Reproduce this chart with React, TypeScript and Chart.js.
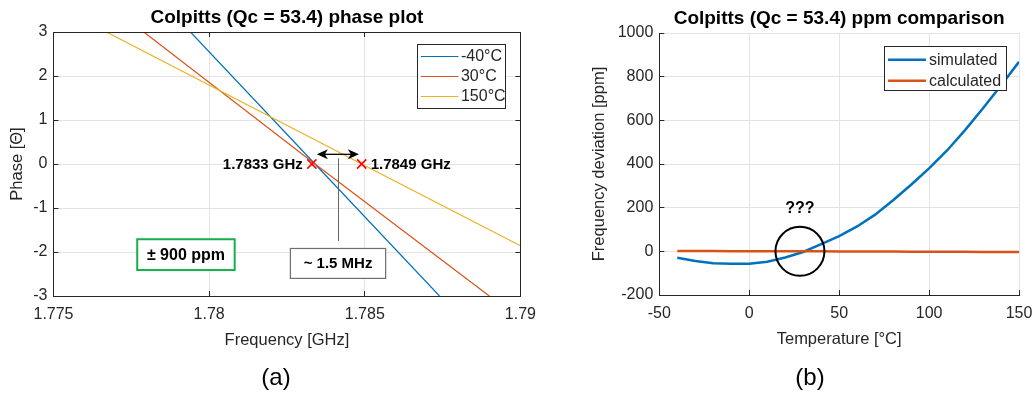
import React, { useEffect, useRef } from "react";
import { Chart, registerables } from "chart.js";
Chart.register(...registerables);

const FONT = "'Liberation Sans', Arial, Helvetica, sans-serif";
const AXIS = "#262626";
const GRID = "#e3e3e3";
const BLUE = "#0072BD";
const ORANGE = "#D95319";
const YELLOW = "#EDB120";

// ---------- (a) phase plot data ----------
const seriesLabelsA = ["-40°C", "30°C", "150°C"];
const freqM40 = [1.7794, 1.7834, 1.7874];
const phaseM40 = [3, 0, -3];
const freq30 = [1.7779, 1.7834, 1.789];
const phase30 = [3, 0, -3];
const freq150 = [1.7767, 1.7849, 1.79];
const phase150 = [3, 0, -1.86];
const markerFreqs = [1.7833, 1.7849];
const markerPhases = [0, 0];
const markerLabels = ["1.7833 GHz", "1.7849 GHz"];
const freqTicks = [1.775, 1.78, 1.785, 1.79];
const phaseTicks = [-3, -2, -1, 0, 1, 2, 3];

// ---------- (b) ppm comparison data ----------
const seriesLabelsB = ["simulated", "calculated"];
const temps = [-40, -30, -20, -10, 0, 10, 20, 30, 40, 50, 60, 70, 80, 90, 100, 110, 120, 130, 140, 150];
const simulated = [-29, -44, -55, -57, -57, -48, -28, -3, 33, 70, 114, 168, 234, 305, 380, 462, 555, 655, 760, 868];
const calculated = [1, 1, 1, 0, 0, 0, 0, 0, 0, -1, -1, -1, -1, -2, -2, -2, -2, -3, -3, -3];
const tempTicks = [-50, 0, 50, 100, 150];
const ppmTicks = [-200, 0, 200, 400, 600, 800, 1000];

const align = (p: number) => Math.round(p - 0.5) + 0.5;

function text(ctx: CanvasRenderingContext2D, s: string, x: number, y: number, font: string, color: string, al: CanvasTextAlign = "center") {
  ctx.font = font;
  ctx.fillStyle = color;
  ctx.textAlign = al;
  ctx.textBaseline = "middle";
  ctx.fillText(s, x, y);
}

function drawFrameTicks(chart: any, box: boolean) {
  const { ctx, chartArea: a, scales } = chart;
  ctx.save();
  ctx.strokeStyle = AXIS;
  ctx.lineWidth = 1;
  ctx.beginPath();
  const L = 5;
  scales.x.ticks.forEach((t: any) => {
    const px = align(scales.x.getPixelForValue(t.value));
    ctx.moveTo(px, a.bottom);
    ctx.lineTo(px, a.bottom - L);
    if (box) {
      ctx.moveTo(px, a.top);
      ctx.lineTo(px, a.top + L);
    }
  });
  scales.y.ticks.forEach((t: any) => {
    const py = align(scales.y.getPixelForValue(t.value));
    ctx.moveTo(a.left, py);
    ctx.lineTo(a.left + L, py);
    if (box) {
      ctx.moveTo(a.right, py);
      ctx.lineTo(a.right - L, py);
    }
  });
  if (box) {
    const t = align(a.top);
    const r = align(a.right);
    ctx.moveTo(a.left, t);
    ctx.lineTo(a.right + 0.5, t);
    ctx.moveTo(r, a.top);
    ctx.lineTo(r, a.bottom);
  }
  ctx.stroke();
  ctx.restore();
}

function drawLegend(chart: any, labels: string[], colors: string[], lw: number, bx: number, by: number, bw: number, bh: number, row0: number, rowStep: number, lineX0: number, lineX1: number, textX: number) {
  const ctx = chart.ctx;
  ctx.save();
  ctx.fillStyle = "#ffffff";
  ctx.fillRect(bx, by, bw, bh);
  ctx.strokeStyle = "#262626";
  ctx.lineWidth = 1;
  ctx.strokeRect(align(bx), align(by), Math.round(bw), Math.round(bh));
  labels.forEach((lab, i) => {
    const y = by + row0 + i * rowStep;
    ctx.strokeStyle = colors[i];
    ctx.lineWidth = lw;
    ctx.beginPath();
    ctx.moveTo(bx + lineX0, y);
    ctx.lineTo(bx + lineX1, y);
    ctx.stroke();
    text(ctx, lab, bx + textX, y + 0.5, `16px ${FONT}`, AXIS, "left");
  });
  ctx.restore();
}

function arrowHead(ctx: CanvasRenderingContext2D, x: number, y: number, dir: number) {
  ctx.beginPath();
  ctx.moveTo(x, y);
  ctx.lineTo(x - dir * 11, y - 5);
  ctx.lineTo(x - dir * 8, y);
  ctx.lineTo(x - dir * 11, y + 5);
  ctx.closePath();
  ctx.fill();
}

const decorA = {
  id: "decorA",
  afterDraw(chart: any) {
    const { ctx, chartArea: a, scales } = chart;
    const xs = scales.x, ys = scales.y;
    drawFrameTicks(chart, true);
    ctx.save();
    // title
    text(ctx, "Colpitts (Qc = 53.4) phase plot", (a.left + a.right) / 2, a.top - 14.5, `bold 19px ${FONT}`, "#000");
    // marker labels
    text(ctx, markerLabels[0], xs.getPixelForValue(markerFreqs[0]) - 9, ys.getPixelForValue(markerPhases[0]) + 0.5, `bold 15px ${FONT}`, "#000", "right");
    text(ctx, markerLabels[1], xs.getPixelForValue(markerFreqs[1]) + 9, ys.getPixelForValue(markerPhases[1]) + 0.5, `bold 15px ${FONT}`, "#000", "left");
    // double arrow
    const ay = ys.getPixelForValue(0.22);
    const ax0 = xs.getPixelForValue(1.78346);
    const ax1 = xs.getPixelForValue(1.78481);
    ctx.strokeStyle = "#000";
    ctx.fillStyle = "#000";
    ctx.lineWidth = 1.3;
    ctx.beginPath();
    ctx.moveTo(ax0 + 6, ay);
    ctx.lineTo(ax1 - 6, ay);
    ctx.stroke();
    arrowHead(ctx, ax0, ay, -1);
    arrowHead(ctx, ax1, ay, 1);
    // vertical pointer line
    const vx = align(xs.getPixelForValue(1.78414));
    ctx.strokeStyle = "#666";
    ctx.lineWidth = 1;
    ctx.beginPath();
    ctx.moveTo(vx, ys.getPixelForValue(0.13));
    ctx.lineTo(vx, ys.getPixelForValue(-1.75));
    ctx.stroke();
    // "~ 1.5 MHz" box
    const g0 = xs.getPixelForValue(1.78261), g1 = xs.getPixelForValue(1.78567);
    const gy0 = ys.getPixelForValue(-1.92), gy1 = ys.getPixelForValue(-2.6);
    ctx.fillStyle = "#fff";
    ctx.fillRect(g0, gy0, g1 - g0, gy1 - gy0);
    ctx.strokeStyle = "#6e6e6e";
    ctx.lineWidth = 1.2;
    ctx.strokeRect(g0, gy0, g1 - g0, gy1 - gy0);
    text(ctx, "~ 1.5 MHz", (g0 + g1) / 2, (gy0 + gy1) / 2 + 0.5, `bold 15px ${FONT}`, "#000");
    // "± 900 ppm" box
    const p0 = xs.getPixelForValue(1.77769), p1 = xs.getPixelForValue(1.78082);
    const py0 = ys.getPixelForValue(-1.71), py1 = ys.getPixelForValue(-2.41);
    ctx.fillStyle = "#fff";
    ctx.fillRect(p0, py0, p1 - p0, py1 - py0);
    ctx.strokeStyle = "#16b04a";
    ctx.lineWidth = 2;
    ctx.strokeRect(p0, py0, p1 - p0, py1 - py0);
    text(ctx, "± 900 ppm", (p0 + p1) / 2, (py0 + py1) / 2 + 0.5, `bold 16px ${FONT}`, "#000");
    ctx.restore();
    // legend
    drawLegend(chart, seriesLabelsA, [BLUE, ORANGE, YELLOW], 1.2, a.right - 103, a.top + 12, 88, 64, 12.5, 20, 3.5, 41, 43.5);
    // subplot label
    text(ctx, "(a)", 276, 378, `24px ${FONT}`, "#000");
  },
};

const decorB = {
  id: "decorB",
  afterDraw(chart: any) {
    const { ctx, chartArea: a, scales } = chart;
    const xs = scales.x, ys = scales.y;
    drawFrameTicks(chart, false);
    ctx.save();
    text(ctx, "Colpitts (Qc = 53.4) ppm comparison", (a.left + a.right) / 2, a.top - 14.5, `bold 19px ${FONT}`, "#000");
    // circle
    const cx = xs.getPixelForValue(28.2), cy = ys.getPixelForValue(0);
    ctx.strokeStyle = "#000";
    ctx.lineWidth = 2;
    ctx.beginPath();
    ctx.arc(cx, cy, 24.5, 0, Math.PI * 2);
    ctx.stroke();
    text(ctx, "???", cx, ys.getPixelForValue(196), `bold 16px ${FONT}`, "#000");
    ctx.restore();
    drawLegend(chart, seriesLabelsB, [BLUE, ORANGE], 2.5, a.right - 135, a.top + 13.5, 122, 44, 13.3, 21, 4, 42, 45);
    text(ctx, "(b)", 810 - 545, 378, `24px ${FONT}`, "#000");
  },
};

function axisCommon(ticksArr: number[], fmt: (v: number) => string) {
  return {
    type: "linear" as const,
    min: ticksArr[0],
    max: ticksArr[ticksArr.length - 1],
    afterBuildTicks: (s: any) => {
      s.ticks = ticksArr.map((v) => ({ value: v }));
    },
    grid: { color: GRID, drawTicks: false, lineWidth: 1 },
    border: { color: AXIS, width: 1 },
    ticks: {
      color: AXIS,
      font: { family: FONT, size: 16 },
      autoSkip: false,
      maxRotation: 0,
      callback: (v: any) => fmt(Number(v)),
    },
  };
}

export default function App() {
  const refA = useRef<HTMLCanvasElement>(null);
  const refB = useRef<HTMLCanvasElement>(null);

  useEffect(() => {
    const pts = (xs: number[], ys: number[]) => xs.map((x, i) => ({ x, y: ys[i] }));
    const lineDs = (label: string, data: any, color: string, w: number, order: number) => ({
      label,
      data,
      borderColor: color,
      backgroundColor: color,
      borderWidth: w,
      pointRadius: 0,
      tension: 0,
      fill: false,
      order,
    });

    const xA = axisCommon(freqTicks, (v) => String(v));
    const yA = axisCommon(phaseTicks, (v) => String(v));
    const chartA = new Chart(refA.current!, {
      type: "line",
      data: {
        datasets: [
          lineDs(seriesLabelsA[0], pts(freqM40, phaseM40), BLUE, 1.2, 3),
          lineDs(seriesLabelsA[1], pts(freq30, phase30), ORANGE, 1.2, 2),
          lineDs(seriesLabelsA[2], pts(freq150, phase150), YELLOW, 1.2, 1),
          {
            label: "zero crossings",
            data: pts(markerFreqs, markerPhases),
            showLine: false,
            pointStyle: "crossRot",
            pointRadius: 6.5,
            pointBorderWidth: 1.5,
            borderColor: "#ff0000",
            backgroundColor: "#ff0000",
            order: 0,
          } as any,
        ],
      },
      options: {
        responsive: false,
        animation: false,
        layout: { padding: { left: 0, top: 32, right: 24, bottom: 44 } },
        plugins: { legend: { display: false }, tooltip: { enabled: false }, title: { display: false } },
        scales: {
          x: {
            ...xA,
            afterFit: (s: any) => { s.height = 54; },
            ticks: { ...xA.ticks, padding: 9 },
            title: { display: true, text: "Frequency [GHz]", color: AXIS, font: { family: FONT, size: 16.5 }, padding: { top: 0, bottom: 0 } },
          },
          y: {
            ...yA,
            afterFit: (s: any) => { s.width = 53.5; },
            ticks: { ...yA.ticks, padding: 6 },
            title: { display: true, text: "Phase [Θ]", color: AXIS, font: { family: FONT, size: 16.5 }, padding: { top: 8, bottom: 0 } },
          },
        },
      } as any,
      plugins: [decorA],
    });

    const xB = axisCommon(tempTicks, (v) => String(v));
    const yB = axisCommon(ppmTicks, (v) => String(v));
    const chartB = new Chart(refB.current!, {
      type: "line",
      data: {
        datasets: [
          lineDs(seriesLabelsB[0], pts(temps, simulated), BLUE, 2.5, 2),
          lineDs(seriesLabelsB[1], pts(temps, calculated), ORANGE, 2.5, 1),
        ],
      },
      options: {
        responsive: false,
        animation: false,
        layout: { padding: { left: 0, top: 33, right: 37, bottom: 45 } },
        plugins: { legend: { display: false }, tooltip: { enabled: false }, title: { display: false } },
        scales: {
          x: {
            ...xB,
            afterFit: (s: any) => { s.height = 54; },
            ticks: { ...xB.ticks, padding: 9 },
            title: { display: true, text: "Temperature [°C]", color: AXIS, font: { family: FONT, size: 16.5 }, padding: { top: 0, bottom: 0 } },
          },
          y: {
            ...yB,
            afterFit: (s: any) => { s.width = 114.3; },
            ticks: { ...yB.ticks, padding: 6 },
            title: { display: true, text: "Frequency deviation [ppm]", color: AXIS, font: { family: FONT, size: 16.5 }, padding: { top: 45, bottom: 0 } },
          },
        },
      } as any,
      plugins: [decorB],
    });

    return () => {
      chartA.destroy();
      chartB.destroy();
    };
  }, []);

  return (
    <div style={{ position: "fixed", left: 0, top: 0, width: 1036, height: 394, background: "#fff", overflow: "hidden" }}>
      <canvas ref={refA} width={545} height={394} style={{ position: "absolute", left: 0, top: 0, width: 545, height: 394 }} />
      <canvas ref={refB} width={511} height={394} style={{ position: "absolute", left: 545, top: 0, width: 511, height: 394 }} />
    </div>
  );
}
